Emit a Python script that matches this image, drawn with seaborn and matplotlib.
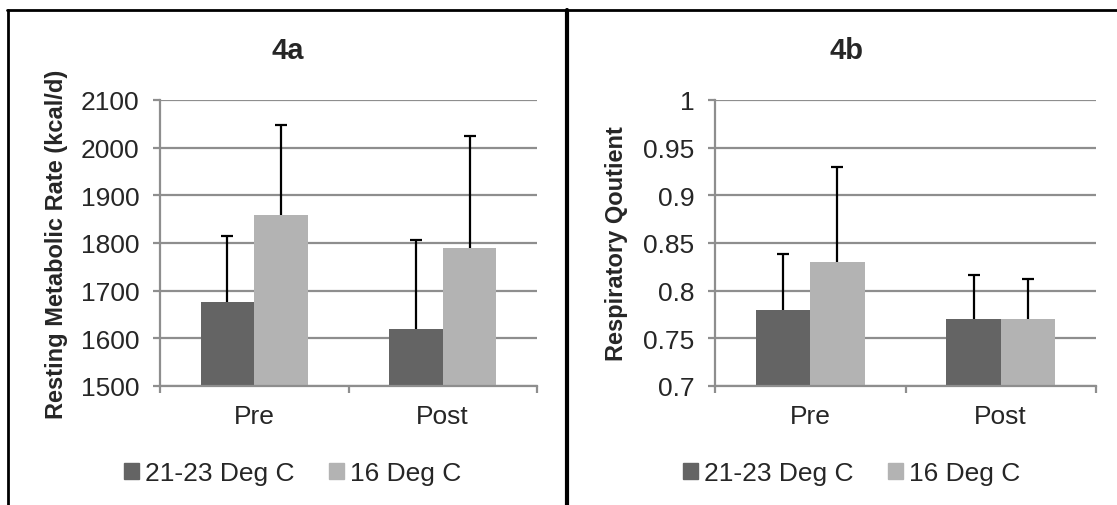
import pandas as pd
import numpy as np
import matplotlib
matplotlib.use('Agg')
import matplotlib.pyplot as plt
import seaborn as sns
from matplotlib.lines import Line2D

# data
phases = ['Pre', 'Post']
temps = ['21-23 Deg C', '16 Deg C']

rmr_warm = [1677, 1620]
rmr_cold = [1859, 1789]
rmr_warm_sd = [137, 187]
rmr_cold_sd = [189, 235]

rq_warm = [0.78, 0.77]
rq_cold = [0.83, 0.77]
rq_warm_sd = [0.058, 0.046]
rq_cold_sd = [0.100, 0.042]

COLORS = {'21-23 Deg C': '#646464', '16 Deg C': '#b3b3b3'}
GRID = '#8e8e8e'

sns.set_style('white')
plt.rcParams['font.family'] = ['Liberation Sans', 'DejaVu Sans']

W, H = 1117, 506
fig = plt.figure(figsize=(W / 100, H / 100), dpi=100)


def make_df(warm, cold):
    rows = []
    for p, v in zip(phases, warm):
        rows.append({'phase': p, 'temp': temps[0], 'value': v})
    for p, v in zip(phases, cold):
        rows.append({'phase': p, 'temp': temps[1], 'value': v})
    return pd.DataFrame(rows)


def panel(rect, warm, cold, warm_sd, cold_sd, ylim, yticks, ylabels, ylabel, title,
          title_x, ylabel_x, legend_x):
    ax = fig.add_axes(rect)
    df = make_df(warm, cold)
    sns.barplot(data=df, x='phase', y='value', hue='temp', order=phases,
                hue_order=temps, palette=COLORS, saturation=1, width=0.57,
                errorbar=None, linewidth=0, ax=ax)

    # upper error bars only (hide the caps at the bar tops)
    for cont, sd in zip(ax.containers, [warm_sd, cold_sd]):
        xs = [b.get_x() + b.get_width() / 2 for b in cont]
        hs = [b.get_height() for b in cont]
        _, caps, _ = ax.errorbar(xs, hs, yerr=[np.zeros(len(sd)), sd], fmt='none',
                                 ecolor='black', elinewidth=1.6, capsize=4.5,
                                 capthick=1.6, zorder=5)
        caps[0].set_visible(False)

    ax.set_xlim(-0.5, 1.5)
    ax.set_ylim(*ylim)
    ax.set_yticks(yticks)
    ax.set_yticklabels(ylabels)
    ax.set_xlabel('')
    ax.set_ylabel('')
    ax.yaxis.grid(True, color=GRID, linewidth=1.6)
    ax.set_axisbelow(True)
    for s in ['top', 'right']:
        ax.spines[s].set_visible(False)
    for s in ['left', 'bottom']:
        ax.spines[s].set_color(GRID)
        ax.spines[s].set_linewidth(1.6)
    ax.tick_params(axis='y', which='major', left=True, length=5, width=1.6,
                   color=GRID, labelsize=19, pad=10)
    ax.tick_params(axis='x', which='major', length=0, labelsize=19, pad=13)
    ax.set_xticks([-0.5, 0.5, 1.5], minor=True)
    ax.tick_params(axis='x', which='minor', bottom=True, length=5, width=1.6,
                   color=GRID)
    ax.legend_.remove()

    fig.text(title_x, 1 - 51 / H, title, ha='center', va='center',
             fontsize=21, fontweight='bold')
    fig.text(ylabel_x, rect[1] + rect[3] / 2, ylabel, ha='center', va='center',
             rotation=90, fontsize=17, fontweight='bold')

    handles = [plt.Rectangle((0, 0), 1, 1, color=COLORS[t]) for t in temps]
    fig.legend(handles, temps, loc='center', ncol=2,
               bbox_to_anchor=(legend_x, 1 - 474 / H), frameon=False,
               fontsize=19, handlelength=0.55, handleheight=0.55,
               handletextpad=0.25, columnspacing=1.3)
    return ax


panel([160 / W, 1 - 387 / H, 377 / W, 286 / H], rmr_warm, rmr_cold,
      rmr_warm_sd, rmr_cold_sd, (1500, 2100), list(range(1500, 2101, 100)),
      [str(v) for v in range(1500, 2101, 100)],
      'Resting Metabolic Rate (kcal/d)', '4a', 288 / W, 57 / W, 293 / W)

rq_ticks = [0.7, 0.75, 0.8, 0.85, 0.9, 0.95, 1.0]
panel([715 / W, 1 - 387 / H, 381 / W, 286 / H], rq_warm, rq_cold,
      rq_warm_sd, rq_cold_sd, (0.7, 1.0), rq_ticks,
      ['0.7', '0.75', '0.8', '0.85', '0.9', '0.95', '1'],
      'Respiratory Qoutient', '4b', 846 / W, 616 / W, 852 / W)

# panel borders
fig.add_artist(Line2D([8 / W, 8 / W], [0, 1 - 11 / H], color='black', linewidth=2,
                      transform=fig.transFigure))
fig.add_artist(Line2D([7 / W, 1], [1 - 11 / H, 1 - 11 / H], color='black',
                      linewidth=2, transform=fig.transFigure))
fig.add_artist(Line2D([567 / W, 567 / W], [0, 1 - 11 / H], color='black',
                      linewidth=3, transform=fig.transFigure))

fig.savefig('out.png', dpi=100)
plt.close(fig)
